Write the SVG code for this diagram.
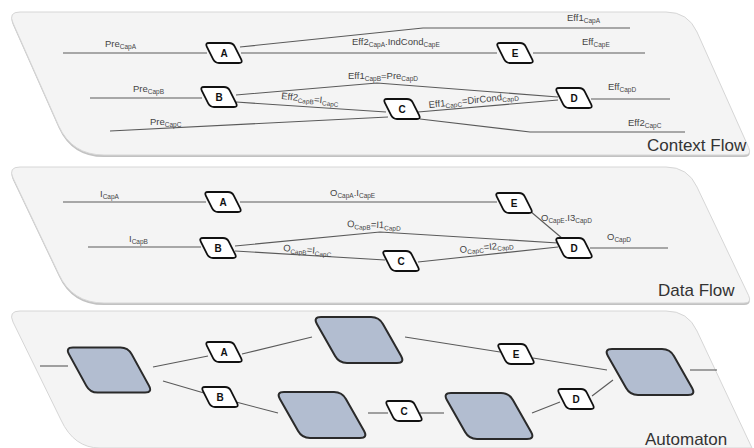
<svg xmlns="http://www.w3.org/2000/svg" xmlns:xlink="http://www.w3.org/1999/xlink" width="754" height="448" viewBox="0 0 754 448">
  <style>
    .panel { fill: #f4f4f4; stroke: #d6d6d6; stroke-width: 1; }
    .shadow { fill: #c2c2c2; }
    .ln { fill: none; stroke: #5a5a5a; stroke-width: 1.1; }
    .lb { font-family: "Liberation Sans", Arial, sans-serif; font-size: 9.5px; fill: #444; }
    .sb { font-size: 6.5px; }
    .tag { fill: #ffffff; stroke: #111; stroke-width: 1.8; }
    .tl { font-family: "Liberation Sans", Arial, sans-serif; font-size: 10px; font-weight: bold; fill: #111; text-anchor: middle; }
    .st { fill: #b2bdd0; stroke: #2a2a2a; stroke-width: 2; }
    .title { font-family: "Liberation Sans", Arial, sans-serif; font-size: 17px; fill: #333; }
  </style>
  <defs>
    <!-- small transition tag, slanted box with rounded corners -->
    <path id="tagShape" d="M-15,-10 L5,-10 Q9,-10 10.8,-6.4 L17.2,6.4 Q19,10 15,10 L-5,10 Q-9,10 -10.8,6.4 L-17.2,-6.4 Q-19,-10 -15,-10 Z"/>
    <!-- automaton state, larger slanted box -->
    <path id="stateShape" d="M-38,-23 L12,-23 Q20,-23 23.9,-16 L42.1,16 Q46,23 38,23 L-12,23 Q-20,23 -23.9,16 L-42.1,-16 Q-46,-23 -38,-23 Z"/>
  </defs>

  <rect width="754" height="448" fill="#ffffff"/>

  <!-- panels -->
  <g id="panel-context">
    <path class="shadow" transform="translate(0,2)" d="M20,12 L666,12 Q688,12 697,32 L748.7,147.7 Q752,155 744,155 L104,155 Q72,155 58.7,125.9 L13,23 Q8,12 20,12 Z"/>
    <path class="panel" d="M20,12 L666,12 Q688,12 697,32 L748.7,147.7 Q752,155 744,155 L104,155 Q72,155 58.7,125.9 L13,23 Q8,12 20,12 Z"/>
    <text class="title" x="647" y="151">Context Flow</text>
  </g>
  <g id="panel-data">
    <path class="shadow" transform="translate(0,2)" d="M20,167 L666,167 Q688,167 697,187 L748.7,295.7 Q752,303 744,303 L104,303 Q72,303 58.7,273.9 L13,178 Q8,167 20,167 Z"/>
    <path class="panel" d="M20,167 L666,167 Q688,167 697,187 L748.7,295.7 Q752,303 744,303 L104,303 Q72,303 58.7,273.9 L13,178 Q8,167 20,167 Z"/>
    <text class="title" x="658" y="296">Data Flow</text>
  </g>
  <g id="panel-automaton">
    <path class="panel" d="M20,311 L666,311 Q688,311 697,331 L752,448 L100,448 Q74,448 61,420 L13,322 Q8,311 20,311 Z"/>
    <text class="title" x="645" y="445">Automaton</text>
  </g>

  <!-- connectors -->
  <g id="connectors">
    <!-- context flow -->
    <path class="ln" d="M63,53 L207,53"/>
    <path class="ln" d="M241,53 L497,53"/>
    <path class="ln" d="M240,47 L423,28 L630,28"/>
    <path class="ln" d="M533,53 L645,53"/>
    <path class="ln" d="M90,98 L202,98"/>
    <path class="ln" d="M236,95 L377,83 L558,97"/>
    <path class="ln" d="M236,102 L386,112"/>
    <path class="ln" d="M418,112 L558,100"/>
    <path class="ln" d="M591,99 L670,99"/>
    <path class="ln" d="M110,131 L388,117"/>
    <path class="ln" d="M420,119 L530,132 L685,132"/>
    <!-- data flow -->
    <path class="ln" d="M63,202 L206,202"/>
    <path class="ln" d="M240,202 L497,202"/>
    <path class="ln" d="M88,247 L201,247"/>
    <path class="ln" d="M235,246 L380,232 L558,243"/>
    <path class="ln" d="M235,251 L385,260"/>
    <path class="ln" d="M418,262 L558,247"/>
    <path class="ln" d="M530,211 L563,239"/>
    <path class="ln" d="M590,248 L668,248"/>
    <!-- automaton -->
    <path class="ln" d="M40,366 L68,366"/>
    <path class="ln" d="M153,367 L208,356"/>
    <path class="ln" d="M242,354 L312,337"/>
    <path class="ln" d="M163,381 L204,393"/>
    <path class="ln" d="M236,402 L278,413"/>
    <path class="ln" d="M368,413 L388,413"/>
    <path class="ln" d="M420,413 L444,413"/>
    <path class="ln" d="M532,413 L560,402"/>
    <path class="ln" d="M592,396 L613,380"/>
    <path class="ln" d="M405,337 L500,352"/>
    <path class="ln" d="M533,358 L607,370"/>
    <path class="ln" d="M690,370 L717,370"/>
  </g>

  <!-- context flow labels -->
  <g id="context-labels">
    <text class="lb" x="105" y="47">Pre<tspan class="sb" dy="2">CapA</tspan></text>
    <text class="lb" x="133" y="92">Pre<tspan class="sb" dy="2">CapB</tspan></text>
    <text class="lb" x="150" y="125">Pre<tspan class="sb" dy="2">CapC</tspan></text>
    <text class="lb" x="352" y="45">Eff2<tspan class="sb" dy="2">CapA</tspan><tspan dy="-2">.IndCond</tspan><tspan class="sb" dy="2">CapE</tspan></text>
    <text class="lb" x="567" y="21">Eff1<tspan class="sb" dy="2">CapA</tspan></text>
    <text class="lb" x="582" y="45">Eff<tspan class="sb" dy="2">CapE</tspan></text>
    <text class="lb" x="348" y="79">Eff1<tspan class="sb" dy="2">CapB</tspan><tspan dy="-2">=Pre</tspan><tspan class="sb" dy="2">CapD</tspan></text>
    <text class="lb" transform="translate(281,99) rotate(6)">Eff2<tspan class="sb" dy="2">CapB</tspan><tspan dy="-2">=I</tspan><tspan class="sb" dy="2">CapC</tspan></text>
    <text class="lb" transform="translate(429,108) rotate(-6)">Eff1<tspan class="sb" dy="2">CapC</tspan><tspan dy="-2">=DirCond</tspan><tspan class="sb" dy="2">CapD</tspan></text>
    <text class="lb" x="608" y="90">Eff<tspan class="sb" dy="2">CapD</tspan></text>
    <text class="lb" x="628" y="126">Eff2<tspan class="sb" dy="2">CapC</tspan></text>
  </g>

  <!-- data flow labels -->
  <g id="data-labels">
    <text class="lb" x="100" y="197">I<tspan class="sb" dy="2">CapA</tspan></text>
    <text class="lb" x="330" y="196">O<tspan class="sb" dy="2">CapA</tspan><tspan dy="-2">.I</tspan><tspan class="sb" dy="2">CapE</tspan></text>
    <text class="lb" x="129" y="242">I<tspan class="sb" dy="2">CapB</tspan></text>
    <text class="lb" transform="translate(347,227) rotate(2)">O<tspan class="sb" dy="2">CapB</tspan><tspan dy="-2">=I1</tspan><tspan class="sb" dy="2">CapD</tspan></text>
    <text class="lb" transform="translate(283,251) rotate(5)">O<tspan class="sb" dy="2">CapB</tspan><tspan dy="-2">=I</tspan><tspan class="sb" dy="2">CapC</tspan></text>
    <text class="lb" transform="translate(460,253) rotate(-6)">O<tspan class="sb" dy="2">CapC</tspan><tspan dy="-2">=I2</tspan><tspan class="sb" dy="2">CapD</tspan></text>
    <text class="lb" x="541" y="221">O<tspan class="sb" dy="2">CapE</tspan><tspan dy="-2">.I3</tspan><tspan class="sb" dy="2">CapD</tspan></text>
    <text class="lb" x="607" y="240">O<tspan class="sb" dy="2">CapD</tspan></text>
  </g>

  <!-- context flow tags -->
  <g id="ctx-A"><use xlink:href="#tagShape" class="tag" x="224" y="53"/><text class="tl" x="224" y="57">A</text></g>
  <g id="ctx-E"><use xlink:href="#tagShape" class="tag" x="515" y="53"/><text class="tl" x="515" y="57">E</text></g>
  <g id="ctx-B"><use xlink:href="#tagShape" class="tag" x="219" y="97"/><text class="tl" x="219" y="101">B</text></g>
  <g id="ctx-C"><use xlink:href="#tagShape" class="tag" x="402" y="109"/><text class="tl" x="402" y="113">C</text></g>
  <g id="ctx-D"><use xlink:href="#tagShape" class="tag" x="574" y="98"/><text class="tl" x="574" y="102">D</text></g>

  <!-- data flow tags -->
  <g id="data-A"><use xlink:href="#tagShape" class="tag" x="223" y="202"/><text class="tl" x="223" y="206">A</text></g>
  <g id="data-E"><use xlink:href="#tagShape" class="tag" x="514" y="203"/><text class="tl" x="514" y="207">E</text></g>
  <g id="data-B"><use xlink:href="#tagShape" class="tag" x="218" y="248"/><text class="tl" x="218" y="252">B</text></g>
  <g id="data-C"><use xlink:href="#tagShape" class="tag" x="401" y="261"/><text class="tl" x="401" y="265">C</text></g>
  <g id="data-D"><use xlink:href="#tagShape" class="tag" x="574" y="248"/><text class="tl" x="574" y="252">D</text></g>

  <!-- automaton states -->
  <g id="state-1"><use xlink:href="#stateShape" class="st" transform="translate(109,370) scale(0.95,0.98)"/></g>
  <g id="state-2"><use xlink:href="#stateShape" class="st" x="359" y="340"/></g>
  <g id="state-3"><use xlink:href="#stateShape" class="st" x="322" y="415"/></g>
  <g id="state-4"><use xlink:href="#stateShape" class="st" x="489" y="416"/></g>
  <g id="state-5"><use xlink:href="#stateShape" class="st" x="650" y="372"/></g>

  <!-- automaton transition tags -->
  <g id="aut-A"><use xlink:href="#tagShape" class="tag" x="224" y="352"/><text class="tl" x="224" y="356">A</text></g>
  <g id="aut-B"><use xlink:href="#tagShape" class="tag" x="220" y="397"/><text class="tl" x="220" y="401">B</text></g>
  <g id="aut-C"><use xlink:href="#tagShape" class="tag" x="404" y="411"/><text class="tl" x="404" y="415">C</text></g>
  <g id="aut-D"><use xlink:href="#tagShape" class="tag" x="576" y="399"/><text class="tl" x="576" y="403">D</text></g>
  <g id="aut-E"><use xlink:href="#tagShape" class="tag" x="516" y="354"/><text class="tl" x="516" y="358">E</text></g>
</svg>
